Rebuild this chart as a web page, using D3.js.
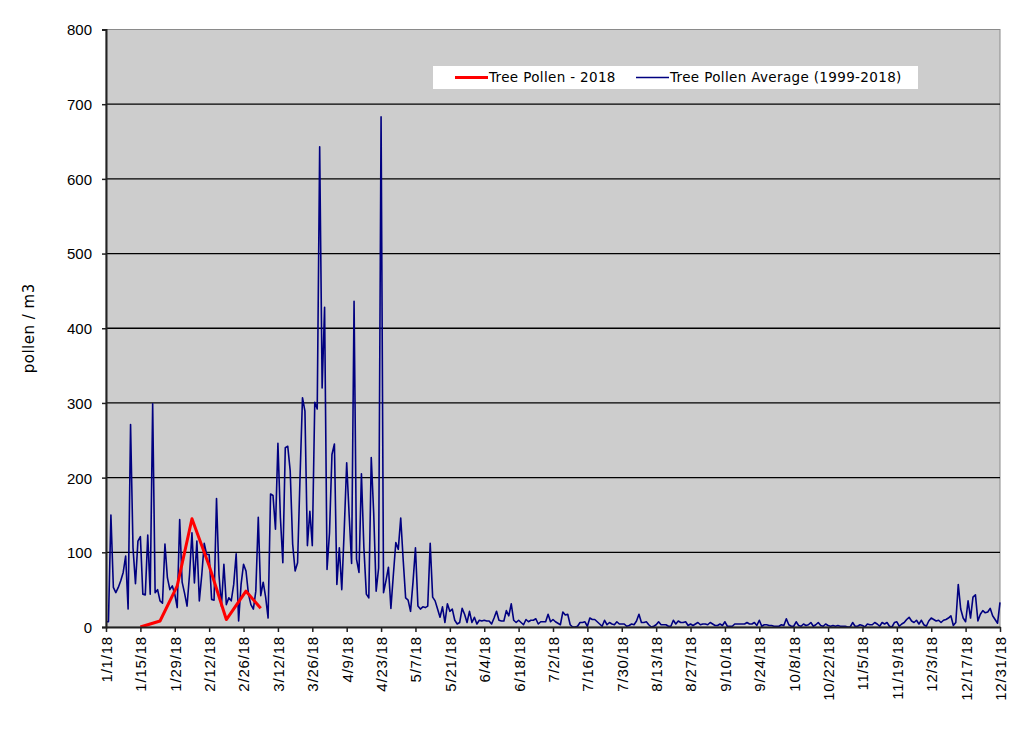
<!DOCTYPE html>
<html>
<head>
<meta charset="utf-8">
<script src="https://cdn.jsdelivr.net/npm/d3@7"></script>
<style>
  body { margin: 0; background: #fff; }
  svg { font-family: "DejaVu Sans", Verdana, sans-serif; }
  .axis text { font-size: 15px; fill: #000; }
  .x-axis text { letter-spacing: 0.8px; }
  .legend text { font-size: 13.5px; fill: #000; letter-spacing: 0.35px; }
</style>
</head>
<body>
<svg id="chart"></svg>
<script>
// x axis tick labels (every two weeks)
const tickLabels = ["1/1/18", "1/15/18", "1/29/18", "2/12/18", "2/26/18", "3/12/18", "3/26/18",
  "4/9/18", "4/23/18", "5/7/18", "5/21/18", "6/4/18", "6/18/18", "7/2/18", "7/16/18", "7/30/18",
  "8/13/18", "8/27/18", "9/10/18", "9/24/18", "10/8/18", "10/22/18", "11/5/18", "11/19/18",
  "12/3/18", "12/17/18", "12/31/18"];
const yTicks = [0, 100, 200, 300, 400, 500, 600, 700, 800];

const seriesNames = ["Tree Pollen - 2018", "Tree Pollen Average (1999-2018)"];

// daily average, one value per day starting 1/1/18
const avgStart = "1/1/18";
const avgValues = [
  7, 7, 150, 53, 46, 53, 62, 73, 95, 24,
  271, 106, 58, 115, 121, 44, 43, 123, 44, 299,
  46, 50, 35, 32, 111, 66, 50, 55, 44, 26,
  144, 60, 45, 28, 70, 126, 59, 115, 35, 70,
  112, 97, 97, 37, 36, 172, 70, 28, 84, 30,
  39, 35, 57, 98, 8, 57, 84, 75, 44, 30,
  24, 48, 147, 42, 60, 40, 12, 178, 176, 131,
  246, 147, 86, 240, 242, 209, 111, 75, 86, 200,
  307, 289, 109, 155, 109, 301, 292, 643, 320, 428,
  77, 126, 231, 245, 57, 106, 50, 130, 220, 150,
  85, 436, 91, 73, 205, 106, 44, 39, 227, 152,
  48, 79, 683, 46, 62, 80, 25, 70, 113, 104,
  146, 90, 39, 36, 21, 60, 106, 28, 24, 27,
  26, 28, 112, 40, 35, 24, 13, 27, 6, 31,
  21, 24, 9, 4, 6, 25, 17, 6, 21, 6,
  13, 4, 9, 8, 9, 8, 8, 4, 12, 21,
  9, 8, 8, 22, 15, 31, 9, 6, 9, 6,
  3, 10, 7, 9, 9, 11, 4, 7, 7, 7,
  17, 7, 10, 7, 5, 3, 20, 16, 17, 3,
  0, 0, 1, 6, 6, 7, 1, 12, 10, 10,
  7, 4, 1, 9, 3, 6, 4, 3, 7, 4,
  4, 4, 1, 2, 4, 3, 8, 17, 6, 6,
  7, 3, 0, 1, 3, 7, 3, 3, 3, 1,
  1, 9, 4, 8, 6, 6, 7, 2, 4, 2,
  4, 6, 3, 4, 4, 3, 6, 4, 2, 2,
  4, 2, 7, 1, 1, 1, 4, 4, 4, 4,
  4, 6, 4, 4, 6, 2, 9, 1, 3, 3,
  2, 2, 1, 1, 1, 3, 2, 11, 3, 1,
  1, 7, 2, 1, 4, 2, 3, 6, 1, 3,
  6, 2, 1, 4, 2, 1, 2, 1, 2, 1,
  1, 1, 0, 0, 6, 1, 1, 3, 2, 0,
  4, 3, 3, 6, 4, 1, 6, 4, 6, 1,
  0, 6, 7, 1, 4, 6, 10, 13, 8, 6,
  9, 4, 9, 3, 1, 8, 12, 10, 8, 9,
  6, 9, 10, 12, 15, 2, 6, 57, 24, 12,
  7, 35, 12, 40, 43, 8, 17, 22, 19, 20,
  25, 15, 10, 5, 33
];

// 2018 weekly counts
const treeDates = ["1/15/18", "1/23/18", "1/30/18", "2/5/18", "2/12/18", "2/19/18", "2/27/18", "3/5/18"];
const treeValues = [0, 8, 55, 145, 82, 10, 48, 25];

const parseDate = d3.timeParse("%m/%d/%y");

class PollenChart {
  constructor(_config) {
    this.config = {
      parentElement: _config.parentElement,
      containerWidth: 1024,
      containerHeight: 742,
      margin: { top: 29.5, right: 24, bottom: 115, left: 106 }
    };
    this.initVis();
  }

  initVis() {
    let vis = this;

    vis.width = vis.config.containerWidth - vis.config.margin.left - vis.config.margin.right;
    vis.height = vis.config.containerHeight - vis.config.margin.top - vis.config.margin.bottom;

    vis.svg = d3.select(vis.config.parentElement)
      .attr("width", vis.config.containerWidth)
      .attr("height", vis.config.containerHeight);

    vis.chart = vis.svg.append("g")
      .attr("transform", `translate(${vis.config.margin.left},${vis.config.margin.top})`);

    vis.tickDates = tickLabels.map(parseDate);

    vis.xScale = d3.scaleTime()
      .domain([parseDate(tickLabels[0]), parseDate(tickLabels[tickLabels.length - 1])])
      .range([0, vis.width]);
    vis.yScale = d3.scaleLinear().domain([0, 800]).range([vis.height, 0]);

    // plot background
    vis.chart.append("rect")
      .attr("width", vis.width)
      .attr("height", vis.height)
      .attr("fill", "#cdcdcd")
      .attr("stroke", "#8a8a8a")
      .attr("stroke-width", 1);

    // gridlines
    vis.chart.append("g")
      .selectAll("line")
      .data(yTicks.filter(d => d > 0 && d < 800))
      .join("line")
      .attr("x1", 0)
      .attr("x2", vis.width)
      .attr("y1", d => vis.yScale(d))
      .attr("y2", d => vis.yScale(d))
      .attr("stroke", "#000")
      .attr("stroke-width", 1.3);

    vis.renderVis();
  }

  renderVis() {
    let vis = this;
    let start = parseDate(avgStart);

    const line = d3.line()
      .x(d => vis.xScale(d.date))
      .y(d => vis.yScale(d.value));

    const avgData = avgValues.map((v, i) => ({ date: d3.timeDay.offset(start, i), value: v }));
    const treeData = treeValues.map((v, i) => ({ date: parseDate(treeDates[i]), value: v }));

    vis.chart.append("path")
      .datum(avgData)
      .attr("fill", "none")
      .attr("stroke", "#000080")
      .attr("stroke-width", 1.6)
      .attr("stroke-linejoin", "round")
      .attr("d", line);

    vis.chart.append("path")
      .datum(treeData)
      .attr("fill", "none")
      .attr("stroke", "#ff0000")
      .attr("stroke-width", 3)
      .attr("stroke-linejoin", "round")
      .attr("d", line);

    // axes
    const yAxis = d3.axisLeft(vis.yScale).tickValues(yTicks).tickSize(4).tickPadding(10);
    const yG = vis.chart.append("g").attr("class", "axis").call(yAxis);
    yG.select(".domain").attr("stroke", "#222").attr("stroke-width", 2);
    yG.selectAll(".tick line").attr("stroke", "#222").attr("stroke-width", 1.5);
    yG.selectAll("text").attr("dy", "0.36em");

    const xAxis = d3.axisBottom(vis.xScale)
      .tickValues(vis.tickDates)
      .tickFormat((d, i) => tickLabels[i])
      .tickSize(5)
      .tickSizeOuter(0);
    const xG = vis.chart.append("g")
      .attr("class", "axis x-axis")
      .attr("transform", `translate(0,${vis.height})`)
      .call(xAxis);
    xG.select(".domain").attr("stroke", "#222").attr("stroke-width", 2);
    xG.selectAll(".tick line").attr("stroke", "#222").attr("stroke-width", 1.5);
    xG.selectAll("text")
      .attr("transform", "rotate(-90)")
      .attr("text-anchor", "end")
      .attr("x", -9)
      .attr("y", 0)
      .attr("dy", "0.36em");

    // y axis title
    vis.svg.append("text")
      .attr("class", "axis-label")
      .attr("transform", `translate(34,${vis.config.margin.top + vis.height / 2}) rotate(-90)`)
      .attr("text-anchor", "middle")
      .style("font-size", "15px")
      .style("letter-spacing", "0.5px")
      .text("pollen / m3");

    // legend
    const legend = vis.chart.append("g")
      .attr("class", "legend")
      .attr("transform", "translate(327,36.5)");
    legend.append("rect")
      .attr("width", 485)
      .attr("height", 23)
      .attr("fill", "#fff");
    const items = [
      { name: seriesNames[0], color: "#ff0000", w: 3, x: 22 },
      { name: seriesNames[1], color: "#000080", w: 1.6, x: 203 }
    ];
    const li = legend.selectAll(".item")
      .data(items)
      .join("g")
      .attr("class", "item")
      .attr("transform", d => `translate(${d.x},11.5)`);
    li.append("line")
      .attr("x1", 0).attr("x2", 33)
      .attr("stroke", d => d.color)
      .attr("stroke-width", d => d.w);
    li.append("text")
      .attr("x", 34)
      .attr("dy", "0.36em")
      .text(d => d.name);
  }
}

new PollenChart({ parentElement: "#chart" });
</script>
</body>
</html>
